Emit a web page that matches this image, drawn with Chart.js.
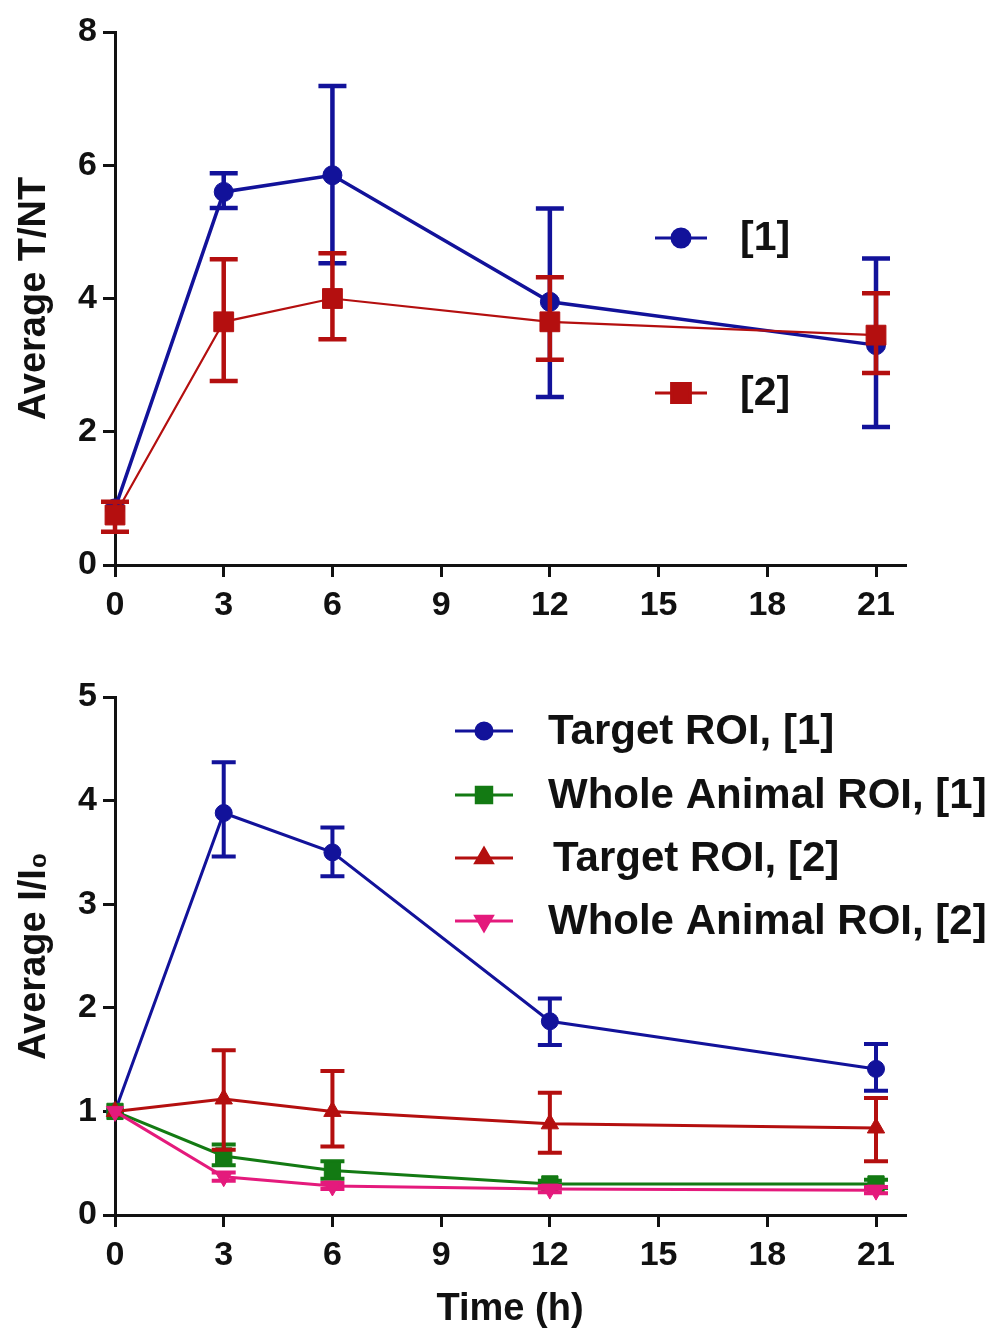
<!DOCTYPE html>
<html>
<head>
<meta charset="utf-8">
<script src="https://cdn.jsdelivr.net/npm/chart.js@4"></script>
<style>
body { margin: 0; background: #fff; width: 990px; height: 1336px; overflow: hidden; }
.wrap { position: relative; width: 990px; }
</style>
</head>
<body>
<div class="wrap" style="height:640px"><canvas id="tntChart"></canvas></div>
<div class="wrap" style="height:696px"><canvas id="ratioChart"></canvas></div>
<script>
// time points (h) and tick labels
var hours = [0, 3, 6, 12, 21];
var xTicks = [0, 3, 6, 9, 12, 15, 18, 21];
var tntTicks = [0, 2, 4, 6, 8];
var ratioTicks = [0, 1, 2, 3, 4, 5];

// top panel: average T/NT
var tnt1 = [0.85, 5.6, 5.85, 3.95, 3.3];
var tnt1Low = [0.85, 5.36, 4.53, 2.52, 2.07];
var tnt1High = [0.85, 5.88, 7.19, 5.35, 4.6];
var tnt2 = [0.75, 3.65, 4.0, 3.65, 3.45];
var tnt2Low = [0.5, 2.76, 3.39, 3.08, 2.88];
var tnt2High = [0.95, 4.59, 4.68, 4.32, 4.08];

// bottom panel: average I/I0
var target1 = [1.0, 3.88, 3.5, 1.87, 1.41];
var target1Low = [1.0, 3.46, 3.27, 1.64, 1.2];
var target1High = [1.0, 4.37, 3.74, 2.09, 1.65];
var whole1 = [1.0, 0.57, 0.43, 0.3, 0.3];
var whole1Low = [1.0, 0.48, 0.35, 0.27, 0.26];
var whole1High = [1.0, 0.68, 0.52, 0.33, 0.34];
var target2 = [1.0, 1.12, 1.0, 0.88, 0.84];
var target2Low = [1.0, 0.63, 0.66, 0.6, 0.52];
var target2High = [1.0, 1.59, 1.39, 1.18, 1.13];
var whole2 = [1.0, 0.37, 0.28, 0.25, 0.24];
var whole2Low = [1.0, 0.33, 0.25, 0.22, 0.21];
var whole2High = [1.0, 0.41, 0.31, 0.28, 0.27];

var FONT = '"Liberation Sans", Arial, sans-serif';
var INK = '#111';
var BLUE = '#12129a';
var RED = '#b40f0f';
var GREEN = '#137a13';
var PINK = '#e41a7c';

function points(ys) {
    return hours.map(function (h, i) { return { x: h, y: ys[i] }; });
}

// error bars, drawn through the chart's own scales
var errorBars = {
    id: 'errorBars',
    beforeDatasetDraw: function (chart, args) {
        var ds = chart.data.datasets[args.index];
        if (!ds.low) return;
        var xs = chart.scales.x, ys = chart.scales.y, ctx = chart.ctx;
        var cap = ds.capHalf || 12;
        ctx.save();
        ctx.strokeStyle = ds.borderColor;
        ctx.lineWidth = ds.errWidth || 4;
        ctx.lineCap = 'butt';
        hours.forEach(function (h, i) {
            var px = xs.getPixelForValue(h);
            var lo = ys.getPixelForValue(ds.low[i]);
            var hi = ys.getPixelForValue(ds.high[i]);
            if (Math.abs(lo - hi) < 1) return;
            ctx.beginPath();
            ctx.moveTo(px, lo); ctx.lineTo(px, hi);
            ctx.moveTo(px - cap, lo); ctx.lineTo(px + cap, lo);
            ctx.moveTo(px - cap, hi); ctx.lineTo(px + cap, hi);
            ctx.stroke();
        });
        ctx.restore();
    }
};

// legend with line + marker samples, placed inside the plot
var lineLegend = {
    id: 'lineLegend',
    afterDraw: function (chart, args, opts) {
        if (!opts.rows) return;
        var ctx = chart.ctx;
        ctx.save();
        chart.data.datasets.forEach(function (ds, i) {
            var y = opts.rows[i];
            var cx = (opts.x0 + opts.x1) / 2;
            ctx.strokeStyle = ds.borderColor;
            ctx.lineWidth = 3;
            ctx.beginPath();
            ctx.moveTo(opts.x0, y); ctx.lineTo(opts.x1, y);
            ctx.stroke();
            ctx.fillStyle = ds.backgroundColor;
            Chart.helpers.drawPoint(ctx, {
                pointStyle: ds.pointStyle,
                rotation: ds.pointRotation || 0,
                radius: ds.pointRadius * 0.95,
                borderWidth: 1
            }, cx, y);
            ctx.fillStyle = INK;
            ctx.font = 'bold ' + opts.size + 'px ' + FONT;
            ctx.textBaseline = 'middle';
            ctx.fillText(ds.label, opts.textX[i], y + 1);
        });
        ctx.restore();
    }
};

function scales(yTicks, yMax, yTitle, xHeight, xTitle) {
    var axisGrid = { drawOnChartArea: false, drawTicks: true, tickLength: 12, color: INK, lineWidth: 3 };
    var tickFont = { family: FONT, size: 34, weight: 'bold' };
    return {
        x: {
            type: 'linear', min: 0, max: 21.8,
            afterBuildTicks: function (s) { s.ticks = xTicks.map(function (v) { return { value: v }; }); },
            afterFit: function (s) { s.height = xHeight; },
            ticks: { font: tickFont, color: INK, padding: 8, maxRotation: 0 },
            grid: axisGrid,
            border: { color: INK, width: 3 },
            title: xTitle ? { display: true, text: xTitle, color: INK, font: { family: FONT, size: 38, weight: 'bold' }, padding: { top: 0 } } : { display: false }
        },
        y: {
            min: 0, max: yMax,
            afterBuildTicks: function (s) { s.ticks = yTicks.map(function (v) { return { value: v }; }); },
            afterFit: function (s) { s.width = 115; },
            ticks: { font: tickFont, color: INK, padding: 6 },
            grid: axisGrid,
            border: { color: INK, width: 3 },
            title: { display: true, text: yTitle, color: INK, font: { family: FONT, size: 38, weight: 'bold' }, padding: { top: 12, bottom: 0 } }
        }
    };
}

function baseOptions(padTop, sc, legend) {
    return {
        responsive: true, maintainAspectRatio: false, animation: false,
        layout: { padding: { top: padTop, right: 85, left: 0, bottom: 0 } },
        scales: sc,
        plugins: { legend: { display: false }, tooltip: { enabled: false }, lineLegend: legend }
    };
}

function series(label, ys, low, high, color, style, radius, width, order, extra) {
    var d = {
        label: label, data: points(ys), low: low, high: high,
        borderColor: color, backgroundColor: color, borderWidth: width,
        pointStyle: style, pointRadius: radius, pointBorderWidth: 1,
        pointBackgroundColor: color, pointBorderColor: color,
        tension: 0, clip: false, order: order
    };
    for (var k in extra) d[k] = extra[k];
    return d;
}

new Chart(document.getElementById('tntChart'), {
    type: 'line',
    data: {
        datasets: [
            series('[1]', tnt1, tnt1Low, tnt1High, BLUE, 'circle', 9.5, 3.5, 1, { capHalf: 14, errWidth: 4.5 }),
            series('[2]', tnt2, tnt2Low, tnt2High, RED, 'rect', 14, 2.2, 0, { capHalf: 14, errWidth: 4.5 })
        ]
    },
    options: baseOptions(32, scales(tntTicks, 8, 'Average T/NT', 75, null),
        { rows: [238, 393], x0: 655, x1: 707, textX: [740, 740], size: 41 }),
    plugins: [errorBars, lineLegend]
});

new Chart(document.getElementById('ratioChart'), {
    type: 'line',
    data: {
        datasets: [
            series('Target ROI, [1]', target1, target1Low, target1High, BLUE, 'circle', 8.5, 3, 3, { capHalf: 12, errWidth: 4 }),
            series('Whole Animal ROI, [1]', whole1, whole1Low, whole1High, GREEN, 'rect', 11.5, 3, 2, { capHalf: 12, errWidth: 4 }),
            series('Target ROI, [2]', target2, target2Low, target2High, RED, 'triangle', 10, 3, 1, { capHalf: 12, errWidth: 4 }),
            series('Whole Animal ROI, [2]', whole2, whole2Low, whole2High, PINK, 'triangle', 10, 3, 0, { capHalf: 12, errWidth: 4, pointRotation: 180 })
        ]
    },
    options: baseOptions(57, scales(ratioTicks, 5, 'Average I/I\u2080', 121, 'Time (h)'),
        { rows: [91, 155, 218, 281], x0: 455, x1: 513, textX: [548, 548, 553, 548], size: 42 }),
    plugins: [errorBars, lineLegend]
});
</script>
</body>
</html>
